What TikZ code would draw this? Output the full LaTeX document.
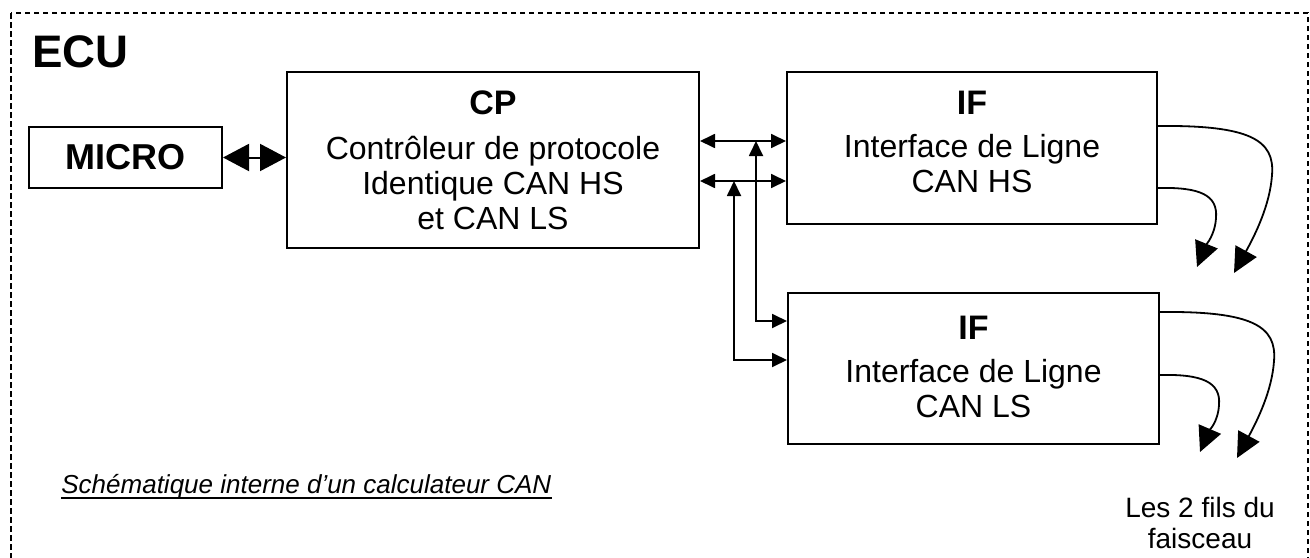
\documentclass[tikz,border=0pt]{standalone}
\usepackage{fontspec}
\setmainfont{Liberation Sans}
\usetikzlibrary{arrows.meta}
\newcommand\titrebloc{\fontsize{17}{21}\selectfont\bfseries}
\tikzset{
  bloc/.style={draw, line width=1pt, inner sep=0pt, align=center,
    font=\fontsize{16}{17.5}\selectfont},
  bigtip/.tip={Triangle[length=13pt,width=13.5pt]},
  bustip/.tip={Triangle[length=7.5pt,width=7pt]},
  filtip/.tip={Triangle[length=12.5pt,width=12pt]},
  bus/.style={line width=0.9pt, bustip-bustip},
  fil/.style={line width=0.9pt, -filtip}
}
\begin{document}
\begin{tikzpicture}[x=0.5pt, y=-0.5pt]
  \clip (0,0) rectangle (1310,557);
  \draw[line width=0.85pt, dash pattern=on 2.75pt off 1.75pt] (11,13) rectangle (1308,575);
  \node (ecu) [anchor=base west, inner sep=0pt, font=\fontsize{22.8}{27}\selectfont\bfseries] at (32,67) {ECU};

  \node (micro) [bloc, minimum width=96.5pt, minimum height=30.5pt,
    font=\fontsize{18}{21}\selectfont\bfseries] at (125.5,157.5) {MICRO};
  \node (cp) [bloc, minimum width=206pt, minimum height=88pt, text depth=0.25pt] at (493,160)
    {{\titrebloc CP}\\[5pt] Contrôleur de protocole\\ Identique CAN HS\\ et CAN LS};
  \node (ifhs) [bloc, minimum width=185pt, minimum height=76pt, text depth=6.25pt] at (972,148)
    {{\titrebloc IF}\\[4pt] Interface de Ligne\\ CAN HS};
  \node (ifls) [bloc, minimum width=185.5pt, minimum height=75.5pt, text depth=1.75pt] at (973.5,368.5)
    {{\titrebloc IF}\\[4pt] Interface de Ligne\\ CAN LS};

  \draw[line width=1pt, bigtip-bigtip] (micro.east) -- (micro.east -| cp.west);

  \coordinate (j1) at (756,141);
  \coordinate (j2) at (734,181);
  \coordinate (k1) at (756,321);
  \coordinate (k2) at (734,360);
  \draw[bus] (j1 -| cp.east) -- (j1 -| ifhs.west);
  \draw[bus] (j2 -| cp.east) -- (j2 -| ifhs.west);
  \draw[bus] (j1) -- (k1) -- (k1 -| ifls.west);
  \draw[bus] (j2) -- (k2) -- (k2 -| ifls.west);

  \coordinate (ta) at (1234,273);
  \coordinate (tb) at (1197,267);
  \coordinate (tc) at (1237,458);
  \coordinate (td) at (1200,452);
  \draw[fil] ([yshift=-27.5pt]ifhs.north east) .. controls (1250,125) and (1275,140) .. (1272,175)
    .. controls (1270,205) and (1255,235) .. (ta);
  \draw[fil] ([yshift=-58.5pt]ifhs.north east) .. controls (1200,187) and (1218,195) .. (1216,218)
    .. controls (1215,235) and (1206,245) .. (tb);
  \draw[fil] ([yshift=-10pt]ifls.north east) .. controls (1252,311) and (1277,326) .. (1274,361)
    .. controls (1272,391) and (1257,421) .. (tc);
  \draw[fil] ([yshift=-41.5pt]ifls.north east) .. controls (1202,374) and (1221,382) .. (1219,405)
    .. controls (1218,422) and (1209,431) .. (td);

  \node (legende) [anchor=base west, inner sep=0pt, font=\fontsize{13}{15}\selectfont\itshape] at (61,493)
    {Schématique interne d’un calculateur CAN};
  \draw[line width=1.1pt] ([yshift=-2.4pt]legende.base west) -- ([yshift=-2.4pt]legende.base east);
  \node (fils) [align=center, inner sep=0pt, font=\fontsize{14}{15.5}\selectfont] at (1200,523)
    {Les 2 fils du\\ faisceau};
\end{tikzpicture}
\end{document}
